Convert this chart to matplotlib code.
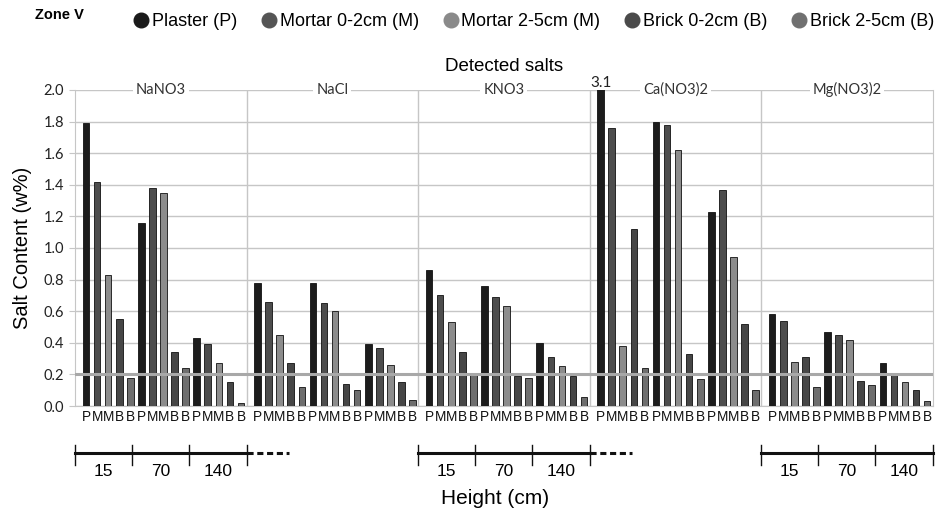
import numpy as np
import matplotlib.pyplot as plt
import matplotlib.transforms as mtransforms
from matplotlib.lines import Line2D

salts = ["NaNO3", "NaCl", "KNO3", "Ca(NO3)2", "Mg(NO3)2"]
heights = ["15", "70", "140"]
materials = ["Plaster (P)", "Mortar 0-2cm (M)", "Mortar 2-5cm (M)", "Brick 0-2cm (B)", "Brick 2-5cm (B)"]
short = ["P", "M", "M", "B", "B"]

# values per salt, per height (15, 70, 140), per material (P, M0-2, M2-5, B0-2, B2-5)
nano3 = [[1.79, 1.42, 0.83, 0.55, 0.18],
         [1.16, 1.38, 1.35, 0.34, 0.24],
         [0.43, 0.39, 0.27, 0.15, 0.02]]
nacl = [[0.78, 0.66, 0.45, 0.27, 0.12],
        [0.78, 0.65, 0.60, 0.14, 0.10],
        [0.39, 0.37, 0.26, 0.15, 0.04]]
kno3 = [[0.86, 0.70, 0.53, 0.34, 0.20],
        [0.76, 0.69, 0.63, 0.19, 0.18],
        [0.40, 0.31, 0.25, 0.19, 0.06]]
cano3 = [[3.1, 1.76, 0.38, 1.12, 0.24],
         [1.80, 1.78, 1.62, 0.33, 0.17],
         [1.23, 1.37, 0.94, 0.52, 0.10]]
mgno3 = [[0.58, 0.54, 0.28, 0.31, 0.12],
         [0.47, 0.45, 0.42, 0.16, 0.13],
         [0.27, 0.21, 0.15, 0.10, 0.03]]
data = [nano3, nacl, kno3, cano3, mgno3]

threshold = 0.2

bar_colors = ["#1c1c1c", "#4d4d4d", "#8c8c8c", "#464646", "#6e6e6e"]
grid_c = "#c6c6c6"

fig = plt.figure(figsize=(9.43, 5.17), dpi=100)
ax = fig.add_axes([0.0795, 0.2147, 0.9095, 0.6113])

gw = 15.5  # group width in bar slots
xs, ticklabels = [], []
for g, salt in enumerate(data):
    for h, vals in enumerate(salt):
        for m, v in enumerate(vals):
            x = g * gw + 1 + h * 5 + m
            ax.bar(x, v, width=0.6, color=bar_colors[m], edgecolor="#111111",
                   linewidth=0.6, zorder=3)
            xs.append(x)
            ticklabels.append(short[m])

ax.set_xlim(0, 5 * gw)
ax.set_ylim(0, 2.0)
ax.set_yticks(np.arange(0, 2.01, 0.2))
ax.set_yticklabels([f"{t:.1f}" for t in np.arange(0, 2.01, 0.2)],
                   fontfamily="Lato", fontsize=10.5, color="#222222")
ax.set_xticks(xs)
ax.set_xticklabels(ticklabels, fontfamily="Liberation Sans", fontsize=9.8, color="#111111")
ax.tick_params(axis="x", length=0, pad=3)
ax.tick_params(axis="y", length=4, color=grid_c, pad=4)
ax.yaxis.grid(True, color=grid_c, linewidth=1, zorder=0)
for sp in ax.spines.values():
    sp.set_color(grid_c)
ax.spines["top"].set_visible(False)

for g in range(1, 5):
    ax.axvline(g * gw, color=grid_c, linewidth=1, zorder=1)

ax.axhline(threshold, color="#a8a8a8", linewidth=2.2, zorder=4)

for g, name in enumerate(salts):
    ax.text(g * gw + gw / 2, 2.0, name, ha="center", va="center", fontfamily="Lato",
            fontsize=10.5, color="#333333", zorder=5,
            bbox=dict(facecolor="white", edgecolor="none", pad=2))

# clipped bar value
ax.text(3 * gw + 1, 2.0, "3.1", ha="center", va="bottom", fontfamily="Lato",
        fontsize=11, color="#222222")

ax.set_ylabel("Salt Content (w%)", fontfamily="Liberation Sans", fontsize=14.5, labelpad=8)
ax.set_title("Detected salts", fontfamily="Liberation Sans", fontsize=13.5, pad=14)

# height rulers below the axis
trans = mtransforms.blended_transform_factory(ax.transData, fig.transFigure)
ry = 1 - 453 / 517
for g, dashed in [(0, True), (2, True), (4, False)]:
    x0 = g * gw
    x1 = x0 + gw
    ax.add_line(Line2D([x0, x1], [ry, ry], transform=trans, color="#111111",
                       linewidth=2.2, clip_on=False))
    for k in range(4):
        xt = x0 + k * gw / 3
        ax.add_line(Line2D([xt, xt], [ry + 0.016, ry - 0.024], transform=trans,
                           color="#111111", linewidth=1, clip_on=False))
    for k, lab in enumerate(heights):
        ax.text(x0 + (k + 0.5) * gw / 3, ry - 0.036, lab, transform=trans,
                ha="center", va="center", fontfamily="Liberation Sans", fontsize=12.5)
    if dashed:
        ax.add_line(Line2D([x1, x1 + 3.8], [ry, ry], transform=trans, color="#111111",
                           linewidth=2.2, linestyle=(0, (2, 1.2)), clip_on=False))

fig.text(0.525, 1 - 498 / 517, "Height (cm)", ha="center", va="center",
         fontfamily="Liberation Sans", fontsize=15)

fig.text(0.037, 1 - 15 / 517, "Zone V", ha="left", va="center",
         fontfamily="Liberation Sans", fontsize=10.5, fontweight="bold")

handles = [Line2D([], [], marker="o", linestyle="none", markersize=10.5,
                  markerfacecolor=c, markeredgecolor=c) for c in
           ["#1a1a1a", "#555555", "#8a8a8a", "#4a4a4a", "#707070"]]
fig.legend(handles, materials, loc="center", bbox_to_anchor=(0.563, 1 - 22 / 517),
           ncol=5, frameon=False, handletextpad=-0.15, columnspacing=1.0,
           handlelength=1.5, prop={"family": "Liberation Sans", "size": 13})

fig.savefig("out.png", dpi=100)
